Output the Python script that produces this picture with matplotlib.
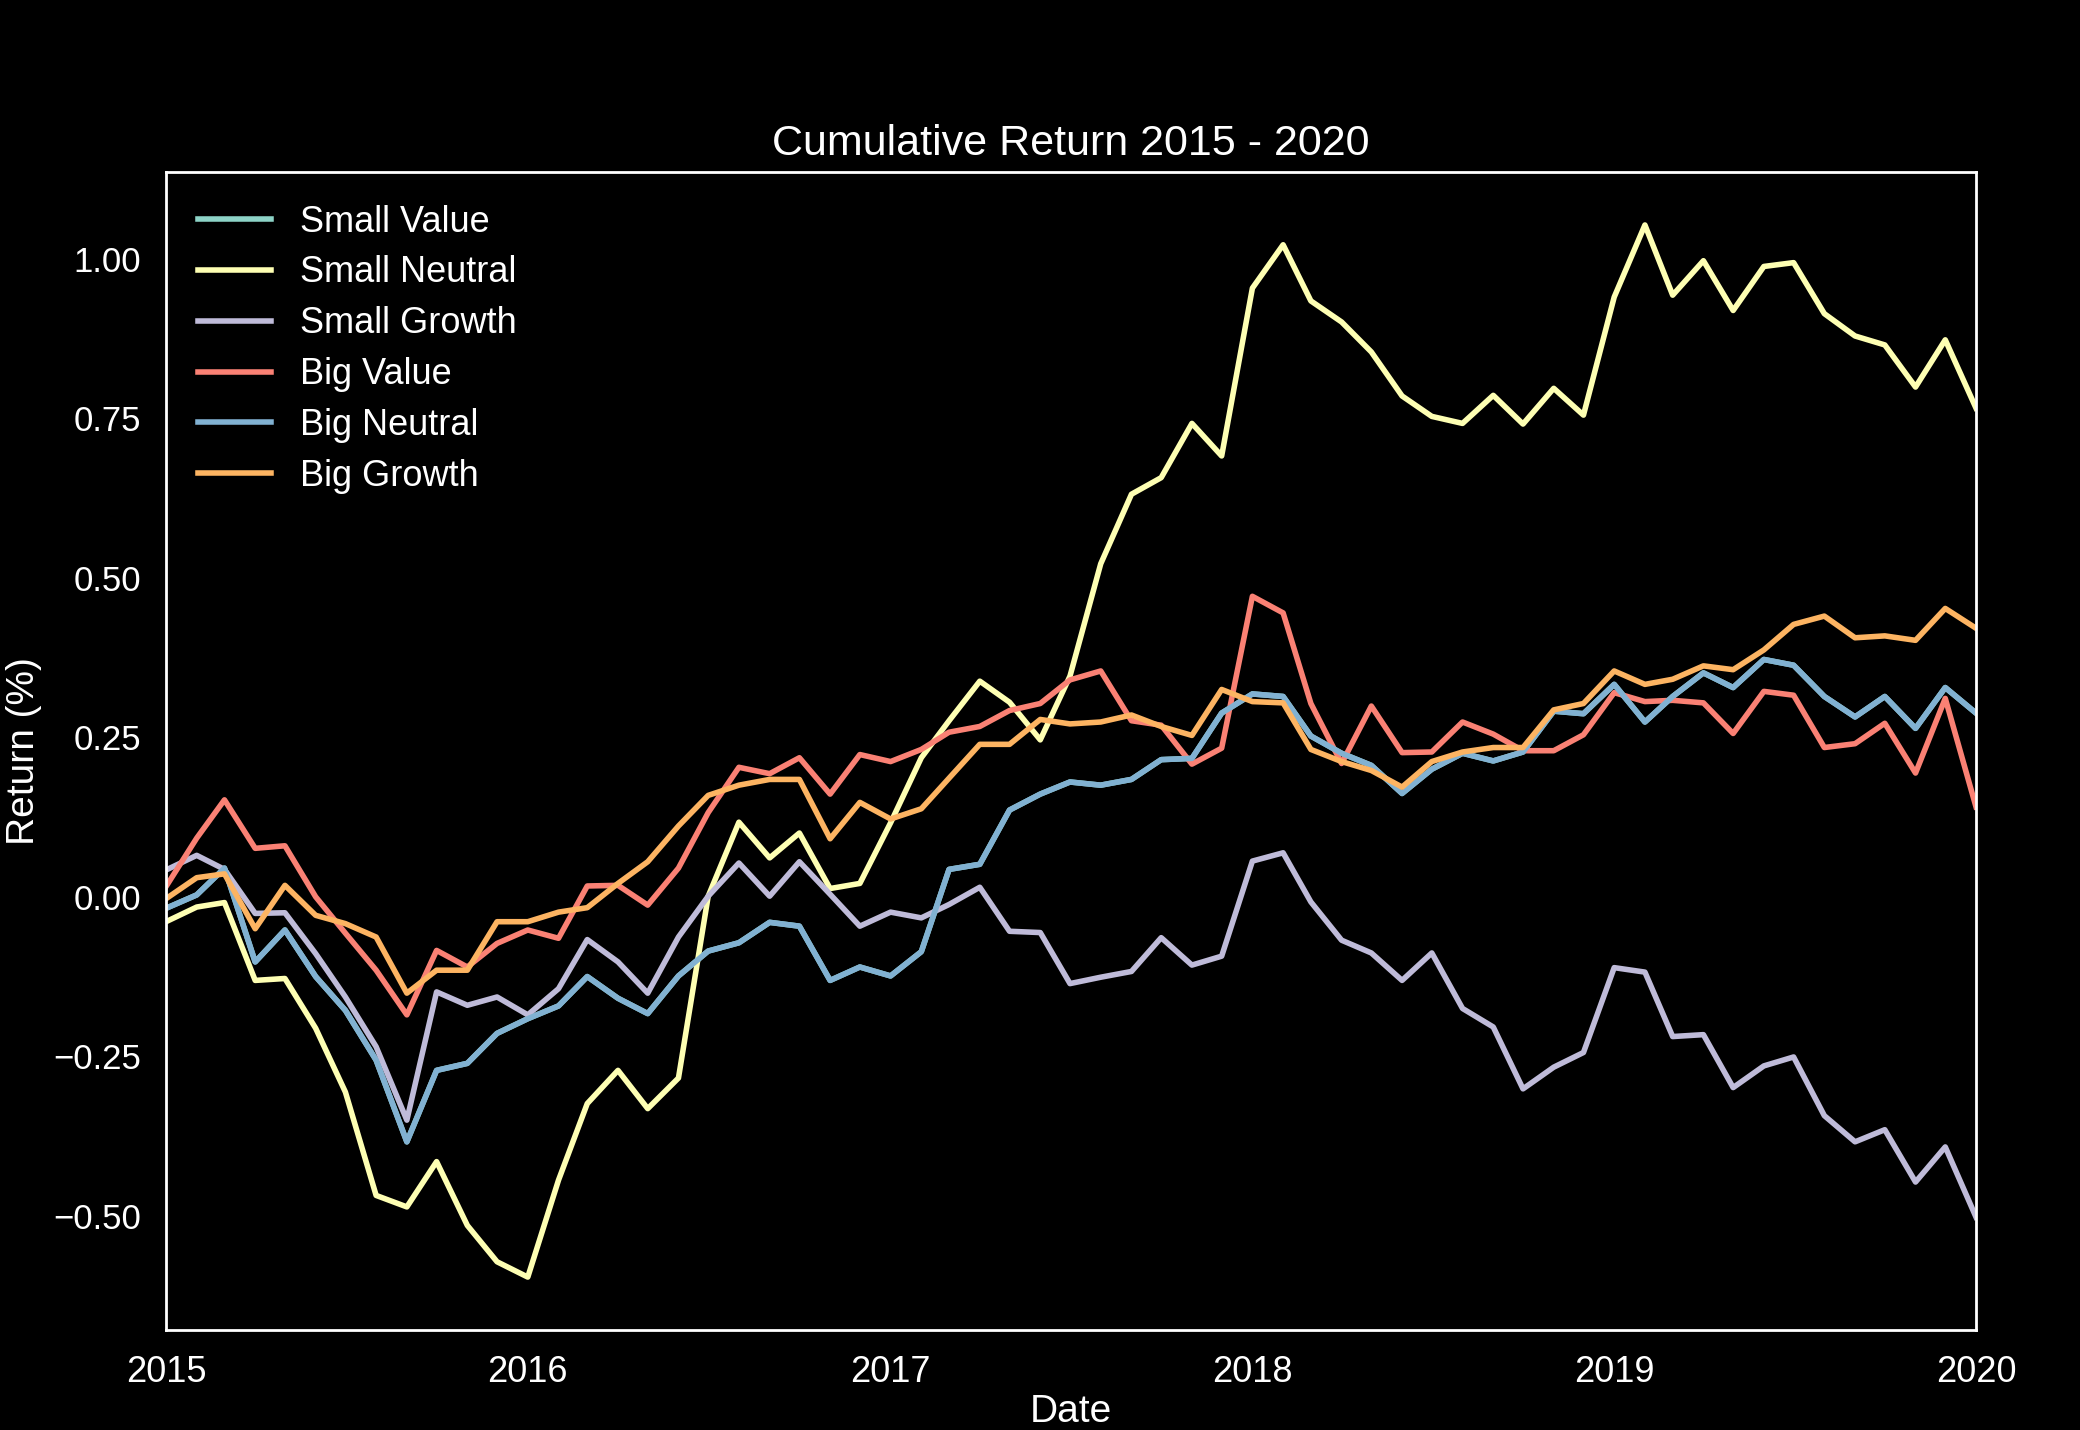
import matplotlib
matplotlib.use("Agg")
import matplotlib.pyplot as plt
import matplotlib.dates as mdates
import pandas as pd

# ---------------- data ----------------
dates = pd.date_range("2015-01-01", "2020-01-01", freq="MS")

small_value = [-0.018, 0.003, 0.045, -0.102, -0.052, -0.125, -0.178, -0.256, -0.384, -0.272,
               -0.261, -0.214, -0.191, -0.171, -0.125, -0.159, -0.183, -0.124, -0.085, -0.072,
               -0.040, -0.046, -0.131, -0.110, -0.124, -0.086, 0.043, 0.051, 0.136, 0.161,
               0.180, 0.175, 0.184, 0.215, 0.217, 0.288, 0.318, 0.314, 0.252, 0.225,
               0.206, 0.162, 0.200, 0.225, 0.213, 0.227, 0.291, 0.287, 0.333, 0.274,
               0.314, 0.351, 0.328, 0.372, 0.363, 0.314, 0.282, 0.314, 0.264, 0.328, 0.288]

small_neutral = [-0.039, -0.016, -0.009, -0.131, -0.128, -0.206, -0.306, -0.468, -0.486, -0.415,
                 -0.515, -0.572, -0.596, -0.444, -0.324, -0.272, -0.332, -0.284, 0.001, 0.117,
                 0.061, 0.100, 0.013, 0.021, 0.116, 0.218, 0.276, 0.338, 0.305, 0.246,
                 0.346, 0.522, 0.631, 0.657, 0.742, 0.691, 0.954, 1.022, 0.934, 0.901,
                 0.854, 0.785, 0.753, 0.742, 0.786, 0.741, 0.797, 0.755, 0.940, 1.053,
                 0.943, 0.997, 0.919, 0.988, 0.994, 0.914, 0.879, 0.865, 0.799, 0.873, 0.766]

small_growth = [0.042, 0.065, 0.043, -0.026, -0.025, -0.089, -0.157, -0.235, -0.350, -0.149,
                -0.170, -0.157, -0.185, -0.144, -0.067, -0.102, -0.151, -0.063, 0.001, 0.053,
                0.001, 0.055, 0.004, -0.046, -0.024, -0.033, -0.012, 0.015, -0.054, -0.056,
                -0.136, -0.126, -0.117, -0.064, -0.107, -0.093, 0.056, 0.069, -0.008, -0.068,
                -0.088, -0.131, -0.088, -0.175, -0.204, -0.301, -0.267, -0.244, -0.111, -0.118,
                -0.219, -0.216, -0.299, -0.265, -0.251, -0.343, -0.384, -0.365, -0.447, -0.392, -0.502]

big_value = [0.016, 0.092, 0.152, 0.076, 0.080, 0.000, -0.057, -0.115, -0.185, -0.084,
             -0.110, -0.073, -0.052, -0.065, 0.017, 0.018, -0.013, 0.045, 0.132, 0.203,
             0.193, 0.218, 0.161, 0.223, 0.212, 0.231, 0.258, 0.267, 0.292, 0.303,
             0.340, 0.354, 0.276, 0.269, 0.208, 0.233, 0.471, 0.445, 0.303, 0.209,
             0.299, 0.226, 0.227, 0.274, 0.255, 0.229, 0.229, 0.254, 0.320, 0.306,
             0.308, 0.304, 0.256, 0.322, 0.316, 0.234, 0.240, 0.272, 0.194, 0.311, 0.141]

big_neutral = [-0.018, 0.003, 0.045, -0.102, -0.052, -0.125, -0.178, -0.256, -0.384, -0.272,
               -0.261, -0.214, -0.191, -0.171, -0.125, -0.159, -0.183, -0.124, -0.085, -0.072,
               -0.040, -0.046, -0.131, -0.110, -0.124, -0.086, 0.043, 0.051, 0.136, 0.161,
               0.180, 0.175, 0.184, 0.215, 0.217, 0.288, 0.318, 0.314, 0.252, 0.225,
               0.206, 0.162, 0.200, 0.225, 0.213, 0.227, 0.291, 0.287, 0.333, 0.274,
               0.314, 0.351, 0.328, 0.372, 0.363, 0.314, 0.282, 0.314, 0.264, 0.328, 0.288]

big_growth = [-0.003, 0.030, 0.036, -0.050, 0.018, -0.029, -0.042, -0.063, -0.151, -0.115,
              -0.115, -0.039, -0.039, -0.024, -0.017, 0.021, 0.055, 0.111, 0.159, 0.175,
              0.184, 0.184, 0.091, 0.148, 0.122, 0.138, 0.186, 0.239, 0.239, 0.278,
              0.271, 0.274, 0.285, 0.267, 0.253, 0.325, 0.306, 0.304, 0.231, 0.212,
              0.198, 0.172, 0.212, 0.227, 0.234, 0.234, 0.293, 0.303, 0.354, 0.333,
              0.341, 0.362, 0.356, 0.387, 0.427, 0.440, 0.406, 0.409, 0.402, 0.452, 0.421]

series_names = ["Small Value", "Small Neutral", "Small Growth",
                "Big Value", "Big Neutral", "Big Growth"]

y_ticks = [-0.5, -0.25, 0.0, 0.25, 0.5, 0.75, 1.0]

# ---------------- figure ----------------
plt.style.use("dark_background")
plt.rcParams["font.family"] = ["Liberation Sans", "DejaVu Sans"]
plt.rcParams["axes.unicode_minus"] = True

fig = plt.figure(figsize=(10.4, 7.15), dpi=200)
ax = fig.add_axes([0.0798, 0.0699, 0.8702, 0.8098])

for name, vals in zip(series_names,
                      [small_value, small_neutral, small_growth,
                       big_value, big_neutral, big_growth]):
    ax.plot(dates, vals, label=name, linewidth=2.0)

ax.set_xlim(dates[0], dates[-1])
ax.set_ylim(-0.679, 1.136)
ax.xaxis.set_major_locator(mdates.YearLocator())
ax.xaxis.set_major_formatter(mdates.DateFormatter("%Y"))
ax.set_yticks(y_ticks)
ax.yaxis.set_major_formatter(
    matplotlib.ticker.FuncFormatter(lambda v, p: f"{v:.2f}".replace("-", "\u2212")))
ax.tick_params(axis="both", length=0, pad=9)
ax.tick_params(axis="x", labelsize=13)
ax.tick_params(axis="y", labelsize=12.5)
for sp in ax.spines.values():
    sp.set_color("white")
    sp.set_linewidth(1.0)

ax.set_title("Cumulative Return 2015 - 2020", fontsize=15.5)
ax.set_xlabel("Date", fontsize=14, labelpad=1.5)
ax.set_ylabel("Return (%)", fontsize=14)
ax.legend(loc="upper left", frameon=False, fontsize=13, labelspacing=0.44)

fig.savefig("out.png", dpi=200, facecolor="black")
